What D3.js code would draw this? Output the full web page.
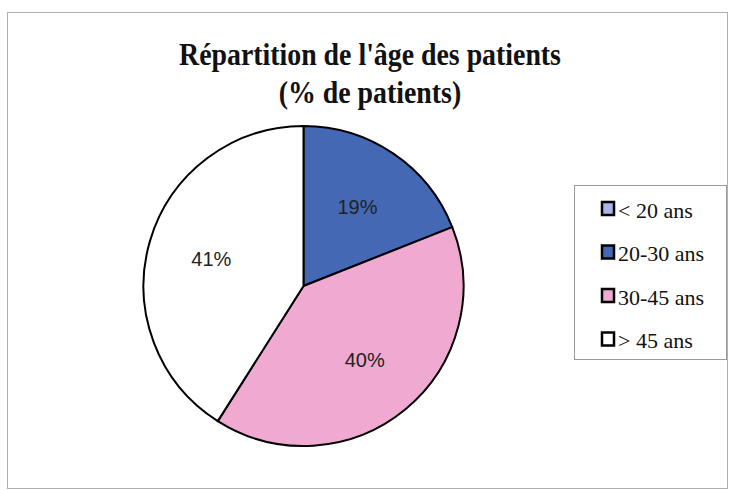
<!DOCTYPE html>
<html>
  <head>
    <meta charset="utf-8" />
    <script src="https://d3js.org/d3.v7.min.js"></script>
    <style>
      body { margin: 0; background: #fff; }
    </style>
  </head>
  <body>
    <div id="chart"></div>
    <script>
      // data
      const categories = ["< 20 ans", "20-30 ans", "30-45 ans", "> 45 ans"];
      const values = [0, 19, 40, 41];
      const colors = ["#a9b5ea", "#4468b4", "#f0a9d1", "#ffffff"];
      const titleLines = ["Répartition de l'âge des patients", "(% de patients)"];

      const width = 733;
      const height = 490;
      const cx = 303.5;
      const cy = 286;
      const radius = 160;

      const svg = d3
        .select("#chart")
        .append("svg")
        .attr("width", width)
        .attr("height", height);

      // outer frame
      svg
        .append("rect")
        .attr("x", 7.5)
        .attr("y", 12.5)
        .attr("width", 720)
        .attr("height", 476)
        .attr("fill", "none")
        .style("stroke", "#b0b0b0");

      // title (the original font is a narrow bold serif, so squeeze it a bit)
      svg
        .append("g")
        .attr("transform", "translate(370,0) scale(0.87,1)")
        .selectAll("text")
        .data(titleLines)
        .enter()
        .append("text")
        .attr("x", 0)
        .attr("y", (d, i) => 65 + i * 38)
        .attr("text-anchor", "middle")
        .style("font-family", "'Liberation Serif', 'Times New Roman', serif")
        .style("font-weight", "bold")
        .style("font-size", "32px")
        .style("fill", "#111")
        .text((d) => d);

      const data = categories.map((c, i) => ({ name: c, value: values[i], color: colors[i] }));

      const pie = d3
        .pie()
        .sort(null)
        .value((d) => d.value);
      const arc = d3.arc().innerRadius(0).outerRadius(radius);
      const labelArc = d3.arc().innerRadius(96).outerRadius(96);

      const g = svg.append("g").attr("transform", "translate(" + cx + "," + cy + ")");

      const slices = pie(data).filter((d) => d.data.value > 0);

      g.selectAll("path")
        .data(slices)
        .enter()
        .append("path")
        .attr("d", arc)
        .style("fill", (d) => d.data.color)
        .style("stroke", "#000")
        .style("stroke-width", 2)
        .style("stroke-linejoin", "round");

      g.selectAll(".lbl")
        .data(slices)
        .enter()
        .append("text")
        .attr("class", "lbl")
        .attr("transform", (d) => "translate(" + labelArc.centroid(d) + ")")
        .attr("text-anchor", "middle")
        .attr("dy", "0.35em")
        .style("font-family", "'Liberation Sans', Arial, sans-serif")
        .style("font-size", "20px")
        .style("fill", "#222")
        .text((d) => d.data.value + "%");

      // legend
      const legend = svg.append("g");
      legend
        .append("rect")
        .attr("x", 574.5)
        .attr("y", 185.5)
        .attr("width", 152)
        .attr("height", 174)
        .attr("fill", "#fff")
        .style("stroke", "#9a9a9a");

      const item = legend
        .selectAll(".item")
        .data(data)
        .enter()
        .append("g")
        .attr("class", "item")
        .attr("transform", (d, i) => "translate(0," + (209 + i * 43.5) + ")");

      item
        .append("rect")
        .attr("x", 602)
        .attr("y", -7)
        .attr("width", 12)
        .attr("height", 13)
        .style("fill", (d) => d.color)
        .style("stroke", "#000")
        .style("stroke-width", 2.5);

      item
        .append("text")
        .attr("x", 618)
        .attr("y", 1)
        .attr("dy", "0.35em")
        .style("font-family", "'Liberation Serif', 'Times New Roman', serif")
        .style("font-size", "22px")
        .style("fill", "#111")
        .text((d) => d.name);
    </script>
  </body>
</html>
